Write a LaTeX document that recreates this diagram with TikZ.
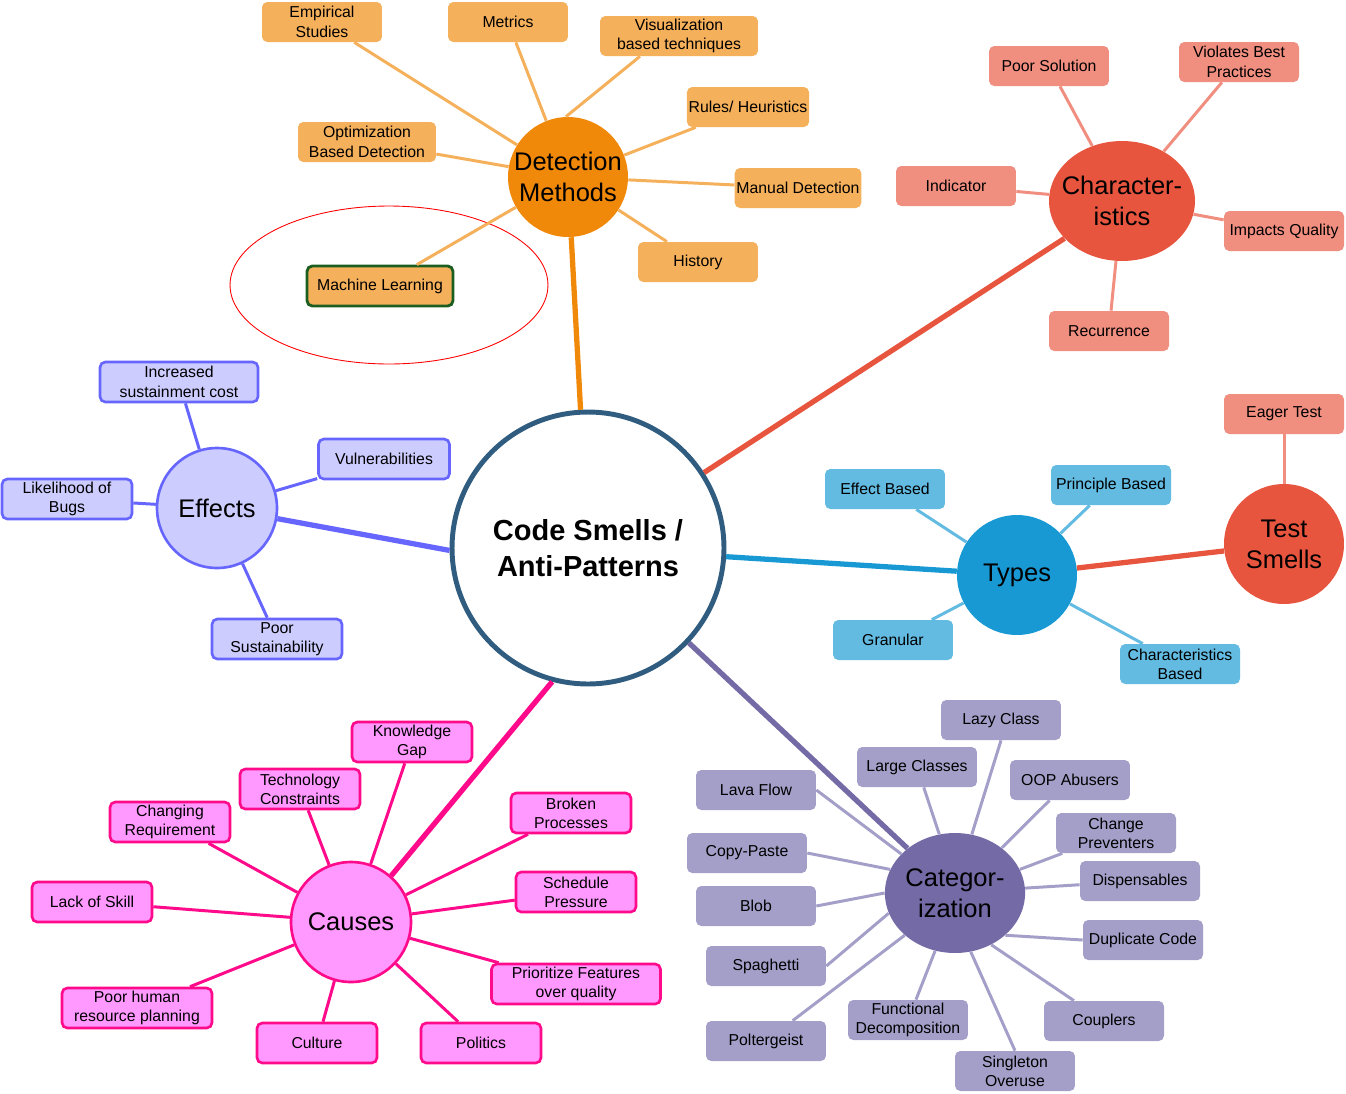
\documentclass[tikz,border=0pt]{standalone}
\usepackage{fontspec}
\setmainfont{Liberation Sans}
\usetikzlibrary{shapes.geometric}
\definecolor{DetOrange}{HTML}{F0880A}
\definecolor{DetLight}{HTML}{F5B05B}
\definecolor{CharRed}{HTML}{E8553F}
\definecolor{CharLight}{HTML}{F08E80}
\definecolor{EffFill}{HTML}{CCCCFF}
\definecolor{EffLine}{HTML}{6666FF}
\definecolor{TypBlue}{HTML}{1899D4}
\definecolor{TypLight}{HTML}{63BBE2}
\definecolor{CauFill}{HTML}{FF99FF}
\definecolor{CauLine}{HTML}{FF0A8A}
\definecolor{CatPurple}{HTML}{736AA6}
\definecolor{CatLight}{HTML}{A39FC8}
\definecolor{CoreBlue}{HTML}{2F5C7F}
\definecolor{MLGreen}{HTML}{1B5E20}

\tikzset{
  hub/.style={circle, minimum size=2.4cm, inner sep=0pt, align=center,
    font=\fontsize{14.5}{17.5}\selectfont},
  leaf/.style={rectangle, rounded corners=3pt, minimum width=2.4cm,
    minimum height=0.8cm, inner xsep=1pt, inner ysep=0pt, align=center,
    font=\fontsize{9}{11}\selectfont},
  detbox/.style={leaf, fill=DetLight},
  charbox/.style={leaf, fill=CharLight},
  effbox/.style={leaf, fill=EffFill, draw=EffLine, line width=1.5pt},
  typbox/.style={leaf, fill=TypLight},
  caubox/.style={leaf, fill=CauFill, draw=CauLine, line width=1.5pt},
  catbox/.style={leaf, fill=CatLight},
  twig/.style={line width=1.7pt},
  branch/.style={line width=3pt}
}

\begin{document}
\begin{tikzpicture}[x=0.02cm, y=-0.02cm]
  \useasboundingbox (0,0) rectangle (1346,1093);
  % highlight ring
  \draw[red, line width=0.5pt] (389,285) ellipse [x radius=3.18cm, y radius=1.58cm];
  % centre
  \node[circle, draw=CoreBlue, line width=2.8pt, fill=white, minimum size=5.44cm,
    align=center, font=\bfseries\fontsize{16.5}{20.5}\selectfont] (smells) at (588,548)
    {Code Smells /\\Anti-Patterns};
  % hubs
  \node[hub, fill=DetOrange] (detect) at (568,177) {Detection\\Methods};
  \node[hub, ellipse, fill=CharRed, inner xsep=-6pt, minimum width=2.92cm, minimum height=2.4cm] (charac) at (1122,201) {Character-\\istics};
  \node[hub, fill=EffFill, draw=EffLine, line width=1.5pt] (effects) at (217,508) {Effects};
  \node[hub, fill=TypBlue] (types) at (1017,575) {Types};
  \node[hub, fill=CharRed] (tests) at (1284,544) {Test\\Smells};
  \node[hub, fill=CauFill, draw=CauLine, line width=1.5pt] (causes) at (351,922) {Causes};
  \node[hub, ellipse, fill=CatPurple, minimum width=2.76cm, minimum height=2.4cm] (categ) at (955,893) {Categor-\\ization};
  % detection methods
  \node[detbox] (empirical) at (322,22) {Empirical\\Studies};
  \node[detbox] (metrics) at (508,22) {Metrics};
  \node[detbox, minimum width=3.16cm] (visual) at (679,36) {Visualization\\based techniques};
  \node[detbox] (rules) at (748,107) {Rules/ Heuristics};
  \node[detbox, minimum width=2.76cm] (optim) at (367,142) {Optimization\\Based Detection};
  \node[detbox] (manual) at (798,188) {Manual Detection};
  \node[detbox] (history) at (698,262) {History};
  \node[detbox, draw=MLGreen, line width=1.6pt, minimum width=2.92cm] (ml) at (380,286) {Machine Learning};
  % characteristics
  \node[charbox] (poorsol) at (1049,66) {Poor Solution};
  \node[charbox] (violates) at (1239,62) {Violates Best\\Practices};
  \node[charbox] (indicator) at (956,186) {Indicator};
  \node[charbox] (impacts) at (1284,231) {Impacts Quality};
  \node[charbox] (recur) at (1109,331) {Recurrence};
  % effects
  \node[effbox, minimum width=3.16cm] (incr) at (179,382) {Increased\\sustainment cost};
  \node[effbox, minimum width=2.62cm] (vuln) at (384,459) {Vulnerabilities};
  \node[effbox, minimum width=2.6cm] (likely) at (67,499) {Likelihood of\\Bugs};
  \node[effbox, minimum width=2.6cm] (poorsus) at (277,639) {Poor\\Sustainability};
  % types
  \node[typbox] (effbased) at (885,489) {Effect Based};
  \node[typbox] (prinbased) at (1111,485) {Principle Based};
  \node[typbox] (granular) at (893,640) {Granular};
  \node[typbox] (charbased) at (1180,664) {Characteristics\\Based};
  % test smells
  \node[charbox] (eager) at (1284,414) {Eager Test};
  % causes
  \node[caubox] (knowgap) at (412,742) {Knowledge\\Gap};
  \node[caubox] (techcon) at (300,789) {Technology\\Constraints};
  \node[caubox] (changreq) at (170,822) {Changing\\Requirement};
  \node[caubox] (broken) at (571,813) {Broken\\Processes};
  \node[caubox] (sched) at (576,892) {Schedule\\Pressure};
  \node[caubox] (lack) at (92,902) {Lack of Skill};
  \node[caubox, minimum width=3.38cm] (priori) at (576,984) {Prioritize Features\\over quality};
  \node[caubox, minimum width=3cm] (poorhr) at (137,1008) {Poor human\\resource planning};
  \node[caubox] (culture) at (317,1043) {Culture};
  \node[caubox] (politics) at (481,1043) {Politics};
  % categorization
  \node[catbox] (lazy) at (1001,720) {Lazy Class};
  \node[catbox] (large) at (917,767) {Large Classes};
  \node[catbox] (oop) at (1070,780) {OOP Abusers};
  \node[catbox] (lava) at (756,790) {Lava Flow};
  \node[catbox] (change) at (1116,833) {Change\\Preventers};
  \node[catbox] (copy) at (747,853) {Copy-Paste};
  \node[catbox] (dispens) at (1140,881) {Dispensables};
  \node[catbox] (blob) at (756,906) {Blob};
  \node[catbox] (dupl) at (1143,940) {Duplicate Code};
  \node[catbox] (spag) at (766,966) {Spaghetti};
  \node[catbox] (funcdec) at (908,1020) {Functional\\Decomposition};
  \node[catbox] (coupl) at (1104,1021) {Couplers};
  \node[catbox] (polter) at (766,1041) {Poltergeist};
  \node[catbox] (single) at (1015,1071) {Singleton\\Overuse};
  % main branches
  \draw[branch, DetOrange] (smells) -- (detect);
  \draw[branch, CharRed] (smells) -- (charac);
  \draw[branch, EffLine] (smells.181) -- (effects.-10);
  \draw[branch, TypBlue] (smells) -- (types);
  \draw[branch, CharRed] (types) -- (tests);
  \draw[branch, CauLine] (smells.-105) -- (causes.49);
  \draw[branch, CatPurple] (smells) -- (categ);
  % detection twigs
  \draw[twig, DetLight] (detect) -- (empirical);
  \draw[twig, DetLight] (detect) -- (metrics);
  \draw[twig, DetLight] (detect.92) -- ([xshift=-0.78cm]visual.south);
  \draw[twig, DetLight] (detect) -- (rules);
  \draw[twig, DetLight] (detect) -- (optim);
  \draw[twig, DetLight] (detect) -- (manual);
  \draw[twig, DetLight] (detect) -- (history);
  \draw[twig, DetLight] (detect) -- (ml);
  % characteristics twigs
  \draw[twig, CharLight] (charac) -- (poorsol);
  \draw[twig, CharLight] (charac) -- (violates);
  \draw[twig, CharLight] (charac) -- (indicator);
  \draw[twig, CharLight] (charac) -- (impacts);
  \draw[twig, CharLight] (charac) -- (recur);
  \draw[twig, CharLight] (tests) -- (eager);
  % effects twigs
  \draw[twig, EffLine] (effects) -- (incr);
  \draw[twig, EffLine] (effects) -- (vuln);
  \draw[twig, EffLine] (effects) -- (likely);
  \draw[twig, EffLine] (effects) -- (poorsus);
  % types twigs
  \draw[twig, TypLight] (types) -- (effbased);
  \draw[twig, TypLight] (types) -- (prinbased);
  \draw[twig, TypLight] (types) -- (granular);
  \draw[twig, TypLight] (types) -- (charbased);
  % causes twigs
  \draw[twig, CauLine] (causes) -- (knowgap);
  \draw[twig, CauLine] (causes) -- (techcon);
  \draw[twig, CauLine] (causes) -- (changreq);
  \draw[twig, CauLine] (causes) -- (broken);
  \draw[twig, CauLine] (causes) -- (sched);
  \draw[twig, CauLine] (causes) -- (lack);
  \draw[twig, CauLine] (causes) -- (priori);
  \draw[twig, CauLine] (causes) -- (poorhr);
  \draw[twig, CauLine] (causes) -- (culture);
  \draw[twig, CauLine] (causes) -- (politics);
  % categorization twigs
  \draw[twig, CatLight] (categ.74) -- (lazy.south);
  \draw[twig, CatLight] (categ.105) -- (large);
  \draw[twig, CatLight] (categ.44) -- (oop);
  \draw[twig, CatLight] (categ.144) -- (lava.east);
  \draw[twig, CatLight] (categ.20) -- (change);
  \draw[twig, CatLight] (categ.160) -- (copy.east);
  \draw[twig, CatLight] (categ.4) -- (dispens);
  \draw[twig, CatLight] (categ.180) -- (blob.east);
  \draw[twig, CatLight] (categ.-40) -- (dupl.west);
  \draw[twig, CatLight] (categ.197) -- (spag.east);
  \draw[twig, CatLight] (categ.-109) -- (funcdec);
  \draw[twig, CatLight] (categ.-55) -- (coupl);
  \draw[twig, CatLight] (categ.220) -- (polter);
  \draw[twig, CatLight] (categ.-75) -- (single.north);
\end{tikzpicture}
\end{document}
